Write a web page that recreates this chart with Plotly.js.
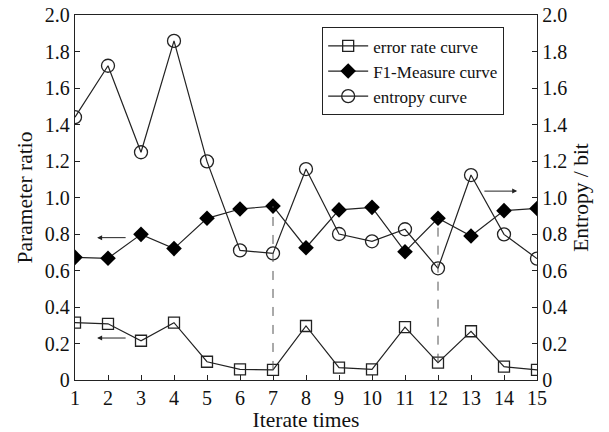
<!DOCTYPE html>
<html><head><meta charset="utf-8">
<script src="https://cdn.plot.ly/plotly-3.0.1.min.js"></script>
<style>body{margin:0;background:#fff}#c{width:609px;height:432px}</style>
</head><body><div id="c"></div>
<script>
const iterations = [1,2,3,4,5,6,7,8,9,10,11,12,13,14,15];
const errorRate = [0.314,0.308,0.215,0.314,0.10,0.058,0.055,0.296,0.068,0.058,0.29,0.095,0.267,0.073,0.055];
const f1Measure = [0.672,0.667,0.798,0.72,0.886,0.937,0.953,0.725,0.932,0.946,0.703,0.886,0.789,0.928,0.94];
const entropy = [1.44,1.722,1.248,1.858,1.198,0.71,0.694,1.156,0.80,0.76,0.826,0.612,1.123,0.798,0.665];
const yTickVals = [0,0.2,0.4,0.6,0.8,1.0,1.2,1.4,1.6,1.8,2.0];
const yTickText = ["0","0.2","0.4","0.6","0.8","1.0","1.2","1.4","1.6","1.8","2.0"];
const markedIters = [7,12];

const fam = "'Liberation Serif', serif";
const F = s => ({family:fam,size:s,color:"#111"});
const traces = [
  {x:iterations,y:errorRate,name:"error rate curve",mode:"lines+markers",
   line:{color:"#222",width:1.2},marker:{symbol:"square-open",size:11,color:"#222",line:{width:1.3}}},
  {x:iterations,y:f1Measure,name:"F1-Measure curve",mode:"lines+markers",
   line:{color:"#222",width:1.2},marker:{symbol:"diamond",size:12,color:"#000"}},
  {x:iterations,y:entropy,name:"entropy curve",mode:"lines+markers",yaxis:"y2",
   line:{color:"#222",width:1.2},marker:{symbol:"circle-open",size:13,color:"#222",line:{width:1.3}}}
];
const shapes = markedIters.map(k=>{
  const i = iterations.indexOf(k);
  return {type:"line",xref:"x",yref:"y",x0:k,x1:k,y0:errorRate[i],y1:f1Measure[i],
          line:{color:"#555",width:1,dash:"dash"}};
});
const arrowStyle = {showarrow:true,arrowhead:2,arrowsize:1,arrowwidth:1,arrowcolor:"#222",text:"",axref:"x",ayref:"y"};
const annotations = [
  Object.assign({x:1.67,y:0.78,ax:2.58,ay:0.78,xref:"x",yref:"y"},arrowStyle),
  Object.assign({x:1.67,y:0.23,ax:2.58,ay:0.23,xref:"x",yref:"y"},arrowStyle),
  Object.assign({x:14.4,y:1.035,ax:13.36,ay:1.035,xref:"x",yref:"y"},arrowStyle)
];
const layout = {
  width:609,height:432,margin:{l:75,r:72,t:15,b:52},
  paper_bgcolor:"#fff",plot_bgcolor:"#fff",font:F(18),
  showlegend:true,
  legend:{x:0.535,y:0.966,xanchor:"left",yanchor:"top",bgcolor:"#fff",bordercolor:"#222",borderwidth:1,
          font:F(17),tracegroupgap:0,itemwidth:40},
  xaxis:{range:[1,15],tickvals:iterations,ticks:"inside",ticklen:5,tickcolor:"#222",
         showline:true,linecolor:"#222",linewidth:1.2,mirror:true,showgrid:false,zeroline:false,
         title:{text:"Iterate times",font:F(21.5),standoff:2},tickfont:F(20)},
  yaxis:{range:[0,2],tickvals:yTickVals,ticktext:yTickText,ticks:"inside",ticklen:5,tickcolor:"#222",
         showline:true,linecolor:"#222",linewidth:1.2,showgrid:false,zeroline:false,
         title:{text:"Parameter ratio",font:F(21.5),standoff:6},tickfont:F(20)},
  yaxis2:{range:[0,2],overlaying:"y",side:"right",tickvals:yTickVals,ticktext:yTickText,ticks:"inside",ticklen:5,tickcolor:"#222",
         showline:true,linecolor:"#222",linewidth:1.2,showgrid:false,zeroline:false,
         title:{text:"Entropy / bit",font:F(21.5),standoff:6},tickfont:F(20)},
  shapes:shapes,annotations:annotations
};
Plotly.newPlot("c",traces,layout,{staticPlot:true});
</script></body></html>
